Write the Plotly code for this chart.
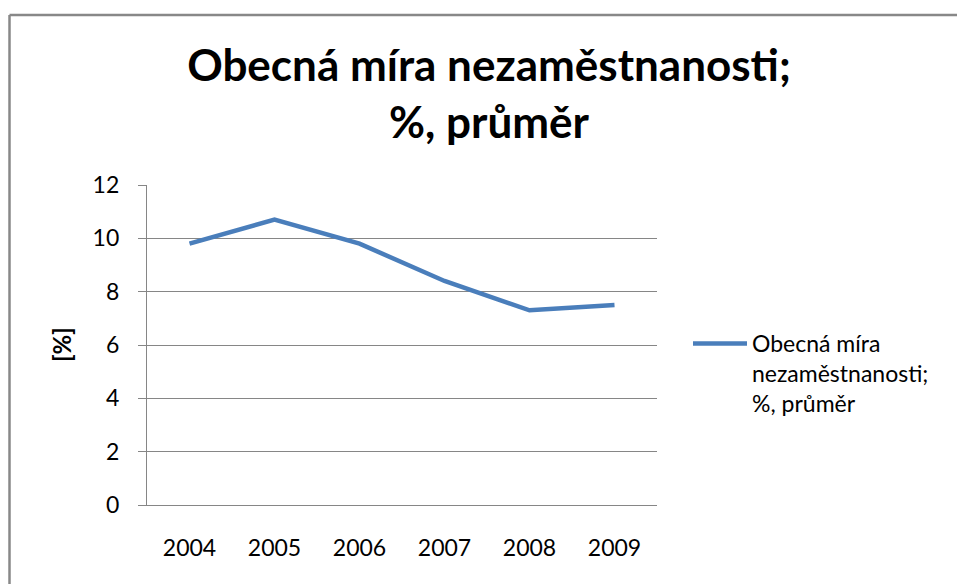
import plotly.graph_objects as go

years = ["2004", "2005", "2006", "2007", "2008", "2009"]
values = [9.8, 10.7, 9.8, 8.4, 7.3, 7.5]
y_ticks = [0, 2, 4, 6, 8, 10, 12]
title_text = "Obecná míra nezaměstnanosti;<br>%, průměr"
series_name = "Obecná míra<br>nezaměstnanosti;<br>%, průměr"
y_title = "[%]"

W, H = 957, 584
L, R, T, B = 147, 657, 185, 505
pw, ph = R - L, B - T

def px(x):
    return (x - L) / pw

def py(y):
    return (B - y) / ph

FONT = "Lato"
GRID = "#868686"

fig = go.Figure()
fig.add_trace(go.Scatter(
    x=years, y=values, mode="lines", name=series_name,
    line=dict(color="#4A7EBB", width=4.5),
))

fig.update_layout(
    width=W, height=H,
    margin=dict(l=L, r=W - R, t=T, b=H - B),
    paper_bgcolor="white", plot_bgcolor="white",
    font=dict(family=FONT, color="black", size=23),
    title=dict(text=title_text, x=489 / W, xanchor="center", xref="container",
               y=1 - 81 / H, yanchor="middle", yref="container",
               font=dict(family=FONT, size=44, color="black", weight="bold")),
    xaxis=dict(type="category", range=[-0.5, 5.5], showgrid=False,
               showline=True, linecolor=GRID, linewidth=1.3,
               ticks="", ticklabelstandoff=22,
               tickfont=dict(size=23, family=FONT), fixedrange=True),
    yaxis=dict(range=[0, 12], tickvals=y_ticks, showgrid=True, gridcolor=GRID,
               gridwidth=1.3, showline=True, linecolor=GRID, linewidth=1.3,
               ticks="outside", ticklen=8, tickcolor=GRID, tickwidth=1.3,
               ticklabelstandoff=14, zeroline=False,
               tickfont=dict(size=23, family=FONT), fixedrange=True),
    showlegend=True,
    legend=dict(x=px(688), xanchor="left", y=py(322), yanchor="top",
                valign="top", itemwidth=54, bgcolor="rgba(0,0,0,0)",
                font=dict(size=23, family=FONT, color="black"),
                tracegroupgap=0),
)

fig.add_annotation(text=y_title, xref="paper", yref="paper", x=px(61), y=0.5,
                   textangle=-90, showarrow=False, xanchor="center", yanchor="middle",
                   font=dict(family=FONT, size=24, color="black", weight="bold"))

# chart-area border: left and top edges as two separate lines
bx0, bx1, by0, by1 = px(9.5), px(1000), py(650), py(15)
fig.add_shape(type="line", xref="paper", yref="paper",
              x0=bx0, x1=bx0, y0=by0, y1=by1,
              line=dict(color="#888888", width=2.5), layer="below")
fig.add_shape(type="line", xref="paper", yref="paper",
              x0=bx0, x1=bx1, y0=by1, y1=by1,
              line=dict(color="#888888", width=2.5), layer="below")

fig.write_html(
    "out.html",
    config={"displayModeBar": False},
    post_script=(
        "document.documentElement.style.margin='0';"
        "document.documentElement.style.overflow='hidden';"
        "document.body.style.margin='0';document.body.style.overflow='hidden';"
    ),
)
